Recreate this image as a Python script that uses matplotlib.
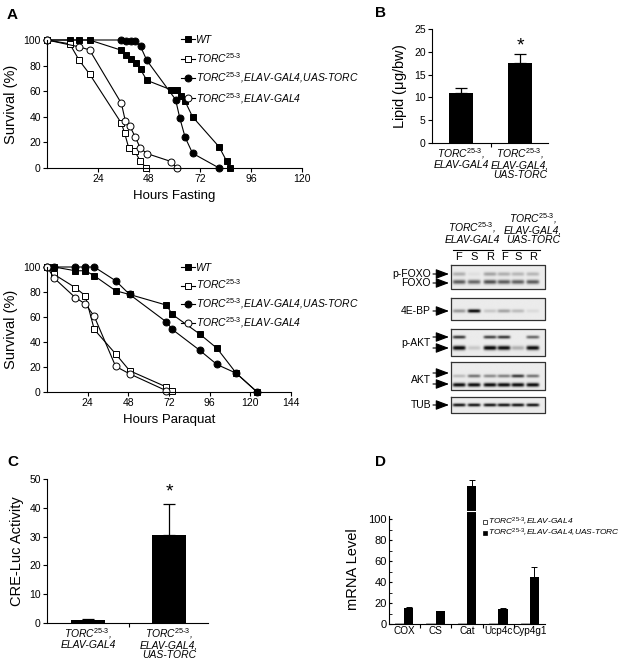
import numpy as np
import matplotlib
matplotlib.use('Agg')
import matplotlib.pyplot as plt
from matplotlib.lines import Line2D

plt.rcParams['font.family'] = ['Liberation Sans', 'DejaVu Sans']
plt.rcParams['mathtext.fontset'] = 'custom'
plt.rcParams['mathtext.rm'] = 'Liberation Sans'
plt.rcParams['mathtext.it'] = 'Liberation Sans:italic'
plt.rcParams['mathtext.bf'] = 'Liberation Sans:bold'
plt.rcParams['axes.linewidth'] = 0.8

# ---- data ----
SUP = r'$^{\text{25-3}}$'
geno_names = ['WT', 'TORC' + SUP,
              'TORC' + SUP + ',ELAV-GAL4,UAS-TORC',
              'TORC' + SUP + ',ELAV-GAL4']

# fasting survival (hours, %)
fast_wt_h = [0, 11, 15, 20, 35, 37, 39.5, 42, 44, 47, 58.5, 61, 63, 65, 68.5, 81, 84.5, 86]
fast_wt_s = [100, 100, 100, 100, 92, 88, 85, 82, 77, 68.5, 61, 61, 56.5, 52, 40, 16.5, 5.5, 0]
fast_torc_h = [0, 10.7, 15.2, 20, 35, 36.5, 38.4, 41.3, 43.9, 46.7]
fast_torc_s = [100, 97, 84, 73.5, 35, 27.5, 16, 13, 5.5, 0]
fast_resc_h = [0, 35, 37, 39.5, 41.5, 44, 47, 60.5, 62.5, 65, 68.5, 81]
fast_resc_s = [100, 100, 99, 99, 99, 95, 84, 53.5, 39, 24, 11.5, 0]
fast_ctrl_h = [0, 15.2, 20, 35, 36.9, 38.9, 41.6, 43.9, 47, 58.5, 61]
fast_ctrl_s = [100, 94.6, 92.3, 50.5, 36.5, 33, 24, 15.5, 11.3, 5, 0]

# paraquat survival (hours, %)
para_wt_h = [0, 4.3, 16.7, 22.6, 27.9, 40.5, 48.8, 70.5, 74, 90, 100.3, 111.7, 124]
para_wt_s = [100, 100, 97, 97, 93, 81, 78, 69.5, 62, 46.5, 35, 15, 0]
para_torc_h = [0, 4.3, 16.7, 22.6, 27.9, 40.5, 48.8, 70.5, 74]
para_torc_s = [100, 94, 83.5, 77, 50, 30.5, 17, 4, 0.5]
para_resc_h = [0, 4.3, 16.7, 22.6, 27.9, 40.5, 48.8, 70.5, 74, 90, 100.3, 111.7, 124]
para_resc_s = [100, 100, 100, 100, 100, 89, 78, 56, 50, 33.5, 22, 15, 0]
para_ctrl_h = [0, 4.3, 16.7, 22.6, 27.9, 40.5, 48.8, 70.5]
para_ctrl_s = [100, 91, 75.5, 70.5, 60.5, 20.5, 14.5, 1]

# lipid (ug/bw)
bar_labels = ['TORC' + SUP + ',\nELAV-GAL4', 'TORC' + SUP + ',\nELAV-GAL4,\nUAS-TORC']
lipid = [10.9, 17.6]
lipid_err = [1.1, 2.0]

# CRE-Luc activity
cre = [0.9, 30.5]
cre_err = [0.35, 10.8]

# mRNA levels
genes = ['COX', 'CS', 'Cat', 'Ucp4c', 'Cyp4g1']
mrna_ctrl = [1, 1, 1, 1, 1]
mrna_resc = [15.5, 12, 131, 14.5, 44.5]
mrna_resc_err = [0.5, 0.4, 6.5, 1.0, 9.5]
mrna_break = 108

# western blot band intensities, lanes F S R F S R
lanes = ['F', 'S', 'R', 'F', 'S', 'R']
blot_pfoxo = [0.25, 0.05, 0.3, 0.25, 0.22, 0.22]
blot_foxo = [0.6, 0.55, 0.65, 0.6, 0.58, 0.6]
blot_4ebp = [0.35, 0.95, 0.15, 0.3, 0.2, 0.07]
blot_pakt_up = [0.75, 0.0, 0.7, 0.75, 0.0, 0.55]
blot_pakt_lo = [1.0, 0.15, 1.0, 0.95, 0.25, 0.95]
blot_akt_up = [0.2, 0.5, 0.4, 0.45, 0.75, 0.5]
blot_akt_lo = [0.95, 0.95, 0.95, 0.95, 0.95, 0.95]
blot_tub = [0.9, 0.9, 0.9, 0.9, 0.9, 0.9]

W, H = 629, 666
fig = plt.figure(figsize=(W / 100, H / 100), dpi=100)


def box(l, t, r, b):
    return [l / W, 1 - b / H, (r - l) / W, (b - t) / H]


def clean(ax):
    ax.spines['top'].set_visible(False)
    ax.spines['right'].set_visible(False)
    ax.tick_params(labelsize=7.5, length=3, width=0.8, pad=1.5, direction='out')


styles = [dict(marker='s', mfc='black'), dict(marker='s', mfc='white'),
          dict(marker='o', mfc='black'), dict(marker='o', mfc='white')]


def survival(rect, xmax, xlabel, series, legend_top, spacing):
    ax = fig.add_axes(box(*rect))
    clean(ax)
    handles = []
    for (h, s), st, name in zip(series, styles, geno_names):
        ln, = ax.plot(h, s, color='black', lw=0.8, ms=5, mec='black', mew=0.7,
                      clip_on=False, label=name, **st)
        handles.append(ln)
    ax.set_xlim(0, xmax)
    ax.set_ylim(0, 100)
    ax.set_xticks(np.arange(24, xmax + 1, 24))
    ax.set_yticks(np.arange(0, 101, 20))
    ax.set_xlabel(xlabel, fontsize=9.5, labelpad=4)
    ax.set_ylabel('Survival (%)', fontsize=10.5, labelpad=4)
    ax.legend(handles=handles, loc='upper left', frameon=False,
              bbox_to_anchor=(181 / W, 1 - legend_top / H),
              bbox_transform=fig.transFigure, prop=dict(size=7.5, style='italic'),
              handlelength=1.3, handletextpad=0.1, labelspacing=spacing,
              borderpad=0, borderaxespad=0)
    return ax


survival((47, 40, 302, 168), 120, 'Hours Fasting',
         [(fast_wt_h, fast_wt_s), (fast_torc_h, fast_torc_s),
          (fast_resc_h, fast_resc_s), (fast_ctrl_h, fast_ctrl_s)], 35, 0.55)
survival((47, 267, 291, 392), 144, 'Hours Paraquat',
         [(para_wt_h, para_wt_s), (para_torc_h, para_torc_s),
          (para_resc_h, para_resc_s), (para_ctrl_h, para_ctrl_s)], 263, 0.45)


def two_bars(rect, vals, errs, ylim, yticks, ylabel, star_y, width):
    ax = fig.add_axes(box(*rect))
    clean(ax)
    x = np.arange(len(vals))
    ax.bar(x, vals, width=width, color='black')
    ax.errorbar(x, vals, yerr=[np.zeros(len(errs)), errs], fmt='none',
                ecolor='black', elinewidth=0.9, capsize=4, capthick=0.9)
    ax.text(1, star_y, '*', ha='center', va='center', fontsize=14)
    ax.set_ylim(*ylim)
    ax.set_yticks(yticks)
    ax.set_xticks(x)
    ax.set_xticklabels(bar_labels, fontstyle='italic', fontsize=7.5, linespacing=0.95)
    ax.tick_params(axis='x', length=0, pad=2)
    ax.set_xticks([0.5], minor=True)
    ax.tick_params(axis='x', which='minor', length=3, width=0.8, direction='out')
    ax.set_ylabel(ylabel, fontsize=10.5, labelpad=4)
    return ax


axB = two_bars((432, 29, 548, 143), lipid, lipid_err, (0, 25), range(0, 26, 5),
               r'Lipid ($\mathregular{\mu}$g/bw)', 21.3, 0.41)
axB.set_xlim(-0.49, 1.47)

axC = two_bars((47, 479, 208, 623), cre, cre_err, (0, 50), range(0, 51, 10),
               'CRE-Luc Activity', 45.5, 0.42)
axC.set_xlim(-0.506, 1.48)

# ---- panel D ----
axD = fig.add_axes(box(389, 477, 545, 624))
clean(axD)
xg = np.arange(len(genes))
bw = 0.29
axD.bar(xg - bw / 2, mrna_ctrl, width=bw, color='white', edgecolor='#888888', lw=0.5)
axD.bar(xg + bw / 2, mrna_resc, width=bw, color='black')
axD.errorbar(xg + bw / 2, mrna_resc, yerr=[np.zeros(5), mrna_resc_err], fmt='none',
             ecolor='black', elinewidth=0.7, capsize=2, capthick=0.7)
axD.plot([xg[2], xg[2] + bw], [mrna_break, mrna_break], color='white', lw=0.8)
axD.set_xlim(-0.48, 4.48)
axD.set_ylim(0, 140)
axD.spines['left'].set_bounds(0, 103)
axD.set_yticks(range(0, 101, 20))
axD.set_yticks(range(10, 100, 20), minor=True)
axD.tick_params(axis='y', which='both', direction='in', length=2.5, labelsize=8)
axD.set_xticks(xg)
axD.set_xticklabels(genes, fontsize=7.2)
axD.tick_params(axis='x', length=0, pad=1.5)
axD.set_xticks(xg[:-1] + 0.5, minor=True)
axD.tick_params(axis='x', which='minor', length=3, width=0.8, direction='out')
axD.set_ylabel('mRNA Level', fontsize=10.5)
axD.yaxis.set_label_coords(-0.185, 0.37)

for i, (fc, lab) in enumerate([('white', 'TORC' + SUP + ',ELAV-GAL4'),
                               ('black', 'TORC' + SUP + ',ELAV-GAL4,UAS-TORC')]):
    yy = 1 - (521.5 + 11 * i) / H
    fig.add_artist(Line2D([485 / W], [yy], marker='s', ms=3.2, mfc=fc, mec='black',
                          mew=0.5, transform=fig.transFigure))
    fig.text(488.5 / W, yy, lab, fontsize=6, fontstyle='italic', va='center')

# ---- western blot ----
axW = fig.add_axes(box(360, 215, 560, 420))
axW.set_xlim(360, 560)
axW.set_ylim(420, 215)
axW.axis('off')

lane_x = [459, 474, 490, 504, 518, 533]
bx0, bx1 = 451, 545
blots = [
    ((265, 289), [(274, blot_pfoxo, 2.0), (282, blot_foxo, 2.2)]),
    ((298, 320), [(311, blot_4ebp, 1.8)]),
    ((329, 356), [(337, blot_pakt_up, 1.6), (348, blot_pakt_lo, 2.2)]),
    ((362, 390), [(376, blot_akt_up, 1.6), (385, blot_akt_lo, 2.0)]),
    ((397, 413), [(405, blot_tub, 1.6)]),
]
for (yt, yb), bands in blots:
    xs = np.linspace(bx0, bx1, 190)
    ys = np.linspace(yt, yb, 60)
    X, Y = np.meshgrid(xs, ys)
    img = np.full(X.shape, 0.08)
    for yc, inten, sy in bands:
        for lx, a in zip(lane_x, inten):
            img += a * np.exp(-((Y - yc) / sy) ** 2) * np.exp(-((X - lx) / 6.5) ** 6)
    axW.imshow(np.clip(img, 0, 1), cmap='gray_r', vmin=0, vmax=1.05, aspect='auto',
               extent=(bx0, bx1, yb, yt), interpolation='bilinear')
    axW.plot([bx0, bx1, bx1, bx0, bx0], [yt, yt, yb, yb, yt], color='#333333', lw=0.9)

arrow_style = dict(arrowstyle='-|>,head_length=0.8,head_width=0.3', color='black',
                   lw=0.8, shrinkA=0, shrinkB=0)
blot_labels = [('p-FOXO', 274, [274]), ('FOXO', 283, [283]), ('4E-BP', 311, [311]),
               ('p-AKT', 343, [337, 348]), ('AKT', 380, [373, 384]), ('TUB', 405, [405])]
for name, ty, arrows in blot_labels:
    axW.text(431, ty, name, ha='right', va='center', fontsize=7.5)
    for ay in arrows:
        axW.annotate('', xy=(449, ay), xytext=(433, ay), arrowprops=arrow_style)

axW.text(472, 245, 'TORC' + SUP + ',\nELAV-GAL4', ha='center', va='bottom',
         fontsize=7.5, fontstyle='italic', linespacing=0.95)
axW.text(533, 245, 'TORC' + SUP + ',\nELAV-GAL4,\nUAS-TORC', ha='center', va='bottom',
         fontsize=7.5, fontstyle='italic', linespacing=0.95)
axW.plot([453, 493], [250, 250], color='black', lw=0.8)
axW.plot([502, 540], [250, 250], color='black', lw=0.8)
for lx, ln in zip(lane_x, lanes):
    axW.text(lx, 257, ln, ha='center', va='center', fontsize=8)

for letter, x, y in [('A', 7, 8), ('B', 375, 6), ('C', 7, 455), ('D', 375, 455)]:
    fig.text(x / W, 1 - y / H, letter, fontsize=11, fontweight='bold', va='top')

fig.savefig('out.png', dpi=100)
